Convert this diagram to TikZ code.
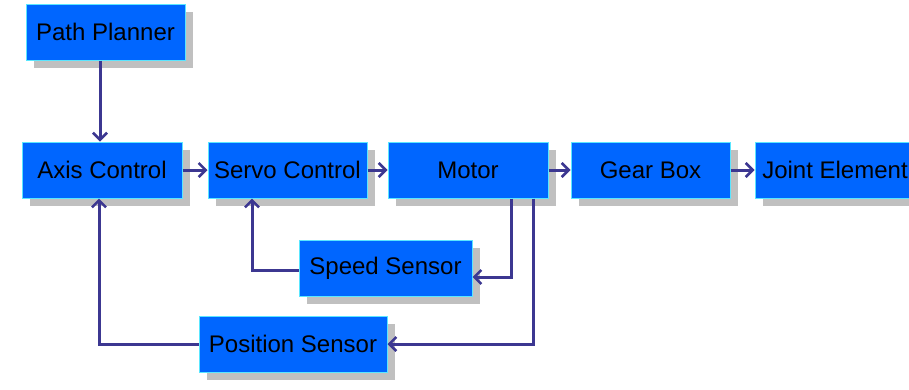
\documentclass[tikz,border=0pt]{standalone}
\usepackage{fontspec}
\setmainfont{Liberation Sans}
\usetikzlibrary{arrows.meta,shadows,calc}
\definecolor{boxblue}{RGB}{0,102,255}
\definecolor{boxedge}{RGB}{90,230,255}
\definecolor{linecol}{RGB}{60,55,145}
\definecolor{shadowgray}{RGB}{192,192,192}
\tikzset{
  blk/.style={draw=boxedge, line width=1pt, fill=boxblue, minimum height=56pt, inner sep=0pt,
    font=\fontsize{24}{28}\selectfont, text=black,
    drop shadow={shadow xshift=8pt, shadow yshift=-8pt, fill=shadowgray, opacity=1}},
  conn/.style={draw=linecol, line width=3pt, -{Straight Barb[length=7pt,width=14pt,line width=2.6pt]}},
}
\begin{document}
\begin{tikzpicture}[x=1pt,y=-1pt]
\useasboundingbox (0,0) rectangle (909,389);
\begin{scope}
\clip (0,0) rectangle (909,389);
\node[blk, minimum width=159pt] (pp) at (105.5,32) {Path Planner};
\node[blk, minimum width=160pt] (ax) at (102,170) {Axis Control};
\node[blk, minimum width=159pt] (sc) at (287.5,170) {Servo Control};
\node[blk, minimum width=160pt] (mo) at (468,170) {Motor};
\node[blk, minimum width=159pt] (gb) at (650.5,170) {Gear Box};
\node[blk, minimum width=160pt] (je) at (835,170) {Joint Element};
\node[blk, minimum width=173pt] (ss) at (385.5,268) {Speed Sensor};
\node[blk, minimum width=188pt] (ps) at (293,344) {Position Sensor};
\end{scope}
\draw[conn] ([xshift=-2pt]pp.south -| ax.north) -- ([xshift=-2pt]ax.north);
\draw[conn] (ax.east) -- (sc.west);
\draw[conn] (sc.east) -- (mo.west);
\draw[conn] (mo.east) -- (gb.west);
\draw[conn] (gb.east) -- (je.west);
\draw[conn] ([xshift=43pt]mo.south) |- ([yshift=-9pt]ss.east);
\draw[conn] ([yshift=-2pt]ss.west) -| ([xshift=-35.5pt]sc.south);
\draw[conn] ([xshift=65pt]mo.south) |- (ps.east);
\draw[conn] (ps.west) -| ([xshift=-3pt]ax.south);
\end{tikzpicture}
\end{document}
